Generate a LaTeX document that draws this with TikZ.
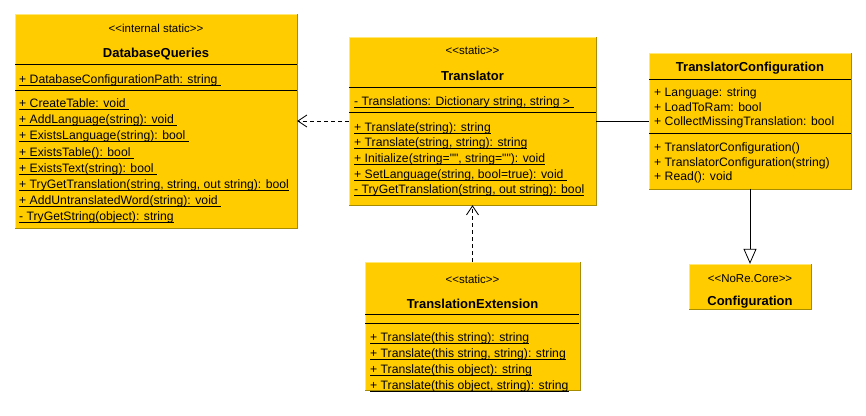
\documentclass[tikz,border=0pt]{standalone}
\usepackage{fontspec}
\setmainfont{Liberation Sans}[Ligatures=TeXOff]
\usetikzlibrary{arrows.meta}

\newcommand\ulmember[1]{\setbox0\hbox{#1}\rlap{\vrule height -1.5pt depth 2.2pt width \wd0}\box0}

\definecolor{classfill}{RGB}{255,204,0}
\definecolor{edgedark}{RGB}{168,140,0}
\definecolor{edgelight}{RGB}{255,232,120}

\tikzset{
  classbox/.style={fill=classfill, inner sep=0pt},
  stereo/.style={inner sep=0pt, yshift=-1.5pt, font=\fontsize{11.5}{13}\selectfont},
  cname/.style={inner sep=0pt, yshift=-1.5pt, font=\fontsize{13}{15}\selectfont\bfseries},
  member/.style={anchor=west, inner sep=0pt, text height=11pt, text depth=2pt, font=\fontsize{12.2}{14}\selectfont},
  sepline/.style={line width=0.8pt},
  depend/.style={line width=0.8pt, dash pattern=on 4pt off 3pt, -{Straight Barb[length=9pt,width=12pt]}},
  assoc/.style={line width=0.8pt},
  inherit/.style={line width=0.8pt, -{Triangle[open,length=15pt,width=13pt,fill=white]}}
}

\begin{document}
\begin{tikzpicture}[x=1pt, y=-1pt]
	\useasboundingbox (0,0) rectangle (866,415);
	% class boxes
	\node[classbox, minimum width=282, minimum height=214] (dbq) at (156,121) {};
	\node[classbox, minimum width=247, minimum height=168] (trans) at (472.5,121) {};
	\node[classbox, minimum width=202, minimum height=135] (tconf) at (750,121) {};
	\node[classbox, minimum width=121, minimum height=45] (conf) at (750,286.5) {};
	\node[classbox, minimum width=214, minimum height=128] (text) at (472.5,326) {};
	\foreach \n in {dbq, trans, tconf, conf, text} {
		\draw[edgedark] (\n.north east) -- (\n.south east) -- (\n.south west);
		\draw[edgelight] (\n.south west) -- (\n.north west) -- (\n.north east);
	}

	% DatabaseQueries
	\def\dbqMethods{{+ CreateTable: void\ }, {+ AddLanguage(string): void\ }, {+ ExistsLanguage(string): bool\ }, {+ ExistsTable(): bool\ }, {+ ExistsText(string): bool\ }, {+ TryGetTranslation(string, string, out string): bool}, {+ AddUntranslatedWord(string): void\ }, {- TryGetString(object): string}}
	\node[stereo] (dbqst) at (156,27) {<<internal static>>};
	\node[cname] (dbqname) at (156,53) {DatabaseQueries};
	\draw[sepline] (15,64) -- (297,64);
	\node[member] (dbqa1) at (19,79) {\ulmember{+ DatabaseConfigurationPath: string\ }};
	\draw[sepline] (15,90) -- (297,90);
	\foreach \txt [count=\i] in \dbqMethods
		\node[member] (dbqm\i) at (19, 86.8+16.2*\i) {\ulmember{\txt}};

	% Translator
	\def\transMethods{{+ Translate(string): string}, {+ Translate(string, string): string}, {+ Initialize(string="", string=""): void}, {+ SetLanguage(string, bool=true): void\ }, {- TryGetTranslation(string, out string): bool}}
	\node[stereo] (transst) at (472.5,49) {<<static>>};
	\node[cname] (transname) at (472.5,74) {Translator};
	\draw[sepline] (349,87) -- (596,87);
	\node[member] (transa1) at (354,101) {\ulmember{- Translations: Dictionary string, string >\ }};
	\draw[sepline] (349,112) -- (596,112);
	\foreach \txt [count=\i] in \transMethods
		\node[member] (transm\i) at (354, 111.2+15.6*\i) {\ulmember{\txt}};

	% TranslatorConfiguration
	\node[cname] (tconfname) at (750,67) {TranslatorConfiguration};
	\draw[sepline] (649,79) -- (851,79);
	\foreach \txt [count=\i] in {+ Language: string, + LoadToRam: bool, + CollectMissingTranslation: bool}
		\node[member] (tconfa\i) at (654, 78+14.3*\i) {\txt};
	\draw[sepline] (649,133) -- (851,133);
	\foreach \txt [count=\i] in {+ TranslatorConfiguration(), + TranslatorConfiguration(string), + Read(): void}
		\node[member] (tconfm\i) at (654, 133+14.3*\i) {\txt};

	% Configuration
	\node[stereo] (confst) at (750,277) {<<NoRe.Core>>};
	\node[cname] (confname) at (750,301) {Configuration};

	% TranslationExtension
	\def\textMethods{{+ Translate(this string): string}, {+ Translate(this string, string): string}, {+ Translate(this object): string}, {+ Translate(this object, string): string}}
	\node[stereo] (textst) at (472.5,278) {<<static>>};
	\node[cname] (textname) at (472.5,302) {TranslationExtension};
	\draw[sepline] (365,314) -- (579,314);
	\draw[sepline] (365,323) -- (579,323);
	\foreach \txt [count=\i] in \textMethods
		\node[member] (textm\i) at (370, 320.8+16.1*\i) {\ulmember{\txt}};

	% relations
	\draw[depend] (trans.west) -- (dbq.east);
	\draw[depend] (text.north) -- (trans.south);
	\draw[assoc] (trans.east) -- (tconf.west);
	\draw[inherit] (tconf.south) -- (conf.north);
\end{tikzpicture}
\end{document}
